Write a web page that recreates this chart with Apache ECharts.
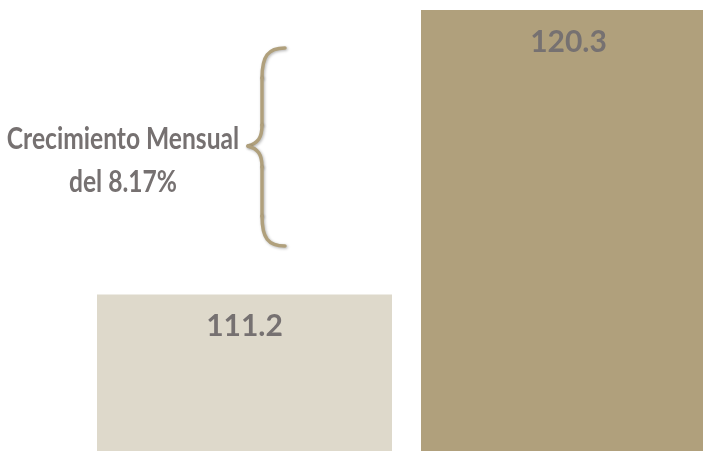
<!DOCTYPE html>
<html><head><meta charset="utf-8">
<script src="https://cdn.jsdelivr.net/npm/echarts@6/dist/echarts.min.js"></script>
<style>html,body{margin:0;padding:0;background:#fff}#c{width:703px;height:451px}</style>
</head><body><div id="c"></div>
<script>
var categories = ['Mes anterior', 'Mes actual'];
var values = [111.2, 120.3];
var barColors = ['#ded9cb', '#b0a07c'];
var annotationLines = ['Crecimiento Mensual', 'del 8.17%'];

var braceStyle = {fill: 'none', stroke: '#b0a07c', lineWidth: 3.5, lineCap: 'round',
  shadowBlur: 3, shadowColor: 'rgba(0,0,0,0.3)', shadowOffsetX: 1, shadowOffsetY: 1};
function bz(x1, y1, cx1, cy1, cx2, cy2, x2, y2) {
  return {type: 'bezierCurve', shape: {x1: x1, y1: y1, cpx1: cx1, cpy1: cy1, cpx2: cx2, cpy2: cy2, x2: x2, y2: y2}, style: braceStyle};
}
function ln(x1, y1, x2, y2) {
  return {type: 'line', shape: {x1: x1, y1: y1, x2: x2, y2: y2}, style: braceStyle};
}

var chart = echarts.init(document.getElementById('c'));
chart.setOption({
  animation: false,
  grid: {left: 244.5, width: 324, top: 0, bottom: 0},
  xAxis: {type: 'category', data: categories, show: false, boundaryGap: false},
  yAxis: {type: 'value', min: 106.2, max: 120.62, show: false},
  series: [{
    type: 'bar',
    barWidth: 295,
    clip: false,
    data: values.map(function (v, i) { return {value: v, itemStyle: {color: barColors[i]}}; }),
    label: {
      show: true, position: 'insideTop', distance: 17,
      color: '#767171', fontFamily: 'Lato', fontWeight: 'bold', fontSize: 30,
      formatter: function (p) { return p.value.toFixed(1); }
    }
  }],
  graphic: [
    {
      type: 'text', x: 123, y: 118, scaleX: 0.82, originX: 0,
      style: {
        text: annotationLines.join('\n'), x: 0, y: 0, align: 'center',
        fill: '#767171', font: 'bold 30px Lato', lineHeight: 43
      }
    },
    {
      type: 'group',
      children: [
        bz(285, 48, 268, 48, 262, 56, 262, 78),
        ln(262, 78, 262, 125),
        bz(262, 125, 262, 138, 258, 143, 248, 146),
        bz(248, 146, 258, 149, 262, 154, 262, 167),
        ln(262, 167, 262, 216),
        bz(262, 216, 262, 238, 268, 246, 285, 246)
      ]
    }
  ]
});
</script></body></html>
